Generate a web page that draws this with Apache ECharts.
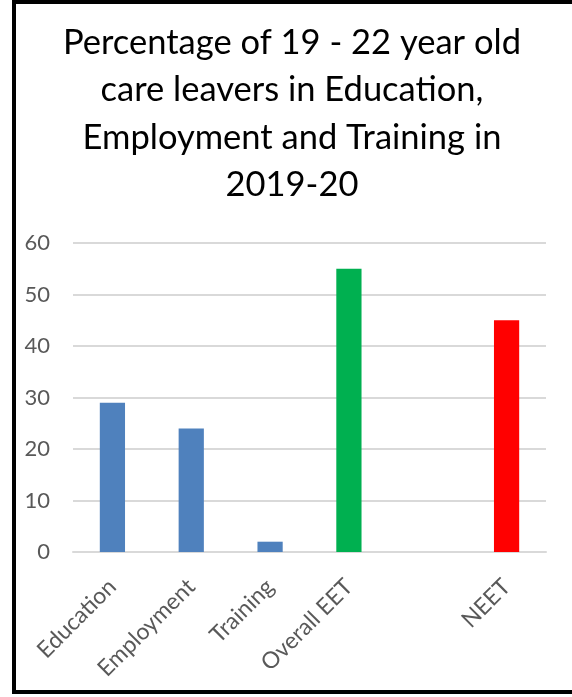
<!DOCTYPE html>
<html>
<head>
<meta charset="utf-8">
<style>
  html, body { margin: 0; padding: 0; background: #ffffff; }
  #chart { width: 572px; height: 697px; }
</style>
<script src="https://cdn.jsdelivr.net/npm/echarts@6/dist/echarts.min.js"></script>
</head>
<body>
<div id="chart"></div>
<script>
// Categories along the x axis (one blank slot separates EET from NEET)
const categories = ['Education', 'Employment', 'Training', 'Overall EET', '', 'NEET'];
// Percentages for each category
const values = [29, 24, 2, 55, null, 45];
// Bar colours per category
const barColors = ['#4f81bd', '#4f81bd', '#4f81bd', '#00b050', '#4f81bd', '#ff0000'];
// Y axis ticks
const yMin = 0, yMax = 60, yStep = 10;

const titleText = 'Percentage of 19 - 22 year old\ncare leavers in Education,\nEmployment and Training in\n2019-20';

const chart = echarts.init(document.getElementById('chart'), null, { renderer: 'canvas' });

chart.setOption({
  animation: false,
  backgroundColor: '#ffffff',
  title: {
    text: titleText,
    left: 292,
    top: 19,
    textAlign: 'center',
    padding: 0,
    textStyle: {
      fontFamily: 'Lato',
      fontWeight: 'normal',
      fontSize: 34.5,
      lineHeight: 47.5,
      color: '#000000'
    }
  },
  graphic: [{
    type: 'rect',
    shape: { x: 14, y: 2, width: 580, height: 690 },
    style: { fill: 'none', stroke: '#000000', lineWidth: 4 },
    z: 100
  }],
  grid: { left: 73, right: 26, top: 243, bottom: 145 },
  xAxis: {
    type: 'category',
    data: categories,
    axisLine: { lineStyle: { color: '#d9d9d9', width: 2 } },
    axisTick: { show: false },
    axisLabel: {
      rotate: 45,
      interval: 0,
      margin: 31,
      color: '#595959',
      fontFamily: 'Lato',
      fontSize: 23,
      padding: [0, 0, 0, 0]
    }
  },
  yAxis: {
    type: 'value',
    min: yMin,
    max: yMax,
    interval: yStep,
    axisLine: { show: false },
    axisTick: { show: false },
    axisLabel: {
      margin: 23,
      color: '#595959',
      fontFamily: 'Lato',
      fontSize: 22
    },
    splitLine: { lineStyle: { color: '#d9d9d9', width: 2 } }
  },
  series: [{
    type: 'bar',
    barWidth: '32%',
    data: values.map((v, i) => ({ value: v, itemStyle: { color: barColors[i] } }))
  }]
});
</script>
</body>
</html>
